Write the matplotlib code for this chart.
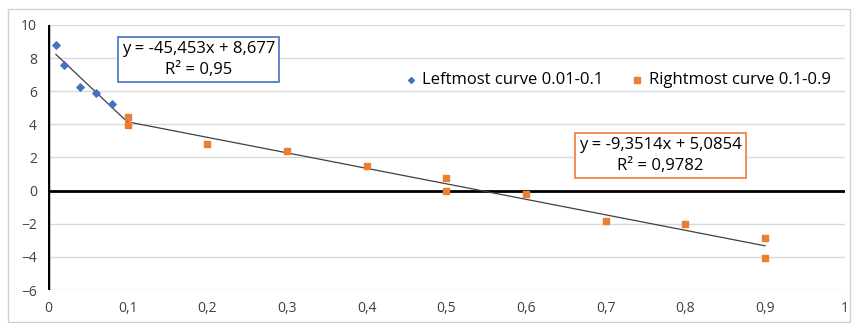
import matplotlib.pyplot as plt
import matplotlib.patches as patches
import numpy as np

# data
left_x = [0.01, 0.02, 0.04, 0.06, 0.08]
left_y = [8.8, 7.6, 6.27, 5.86, 5.22]
right_x = [0.1, 0.1, 0.2, 0.3, 0.4, 0.5, 0.5, 0.6, 0.7, 0.8, 0.9, 0.9]
right_y = [4.45, 3.95, 2.8, 2.4, 1.5, 0.77, -0.04, -0.2, -1.85, -2.0, -2.88, -4.05]

# trend line coefficients (from the chart labels)
left_fit = (-45.453, 8.677, 0.95)
right_fit = (-9.3514, 5.0854, 0.9782)

BLUE = '#4472C4'
ORANGE = '#ED7D31'

plt.rcParams['font.family'] = ['Open Sans', 'DejaVu Sans']

fig = plt.figure(figsize=(8.55, 3.23), dpi=100)
ax = fig.add_axes([0.056, 0.102, 0.932, 0.821])

# outer chart border
fig.patches.append(patches.Rectangle((0.009, 0.003), 0.985, 0.97, transform=fig.transFigure,
                                     fill=False, ec='#d0d0d0', lw=1))

ax.set_xlim(0, 1)
ax.set_ylim(-6, 10)
ax.set_xticks(np.arange(0, 1.01, 0.1))
ax.set_yticks(np.arange(-6, 11, 2))
ax.set_xticklabels(['0'] + ['0,%d' % i for i in range(1, 10)] + ['1'])
ax.yaxis.grid(True, color='#d9d9d9', lw=1)
ax.set_axisbelow(True)
for sp in ax.spines.values():
    sp.set_visible(False)
ax.tick_params(length=0, labelsize=10, colors='#404040', pad=8)
ax.axhline(0, color='black', lw=2, zorder=1)
ax.axvline(0, color='black', lw=2.5, zorder=1)

# trend lines
xl = np.array([min(left_x), 0.1])
ax.plot(xl, left_fit[0] * xl + left_fit[1], color='#404040', lw=0.9, zorder=2)
xr = np.array([0.1, max(right_x)])
ax.plot(xr, right_fit[0] * xr + right_fit[1], color='#404040', lw=0.9, zorder=2)

ax.scatter(left_x, left_y, marker='D', s=14, color=BLUE, zorder=3,
           label='Leftmost curve 0.01-0.1')
ax.scatter(right_x, right_y, marker='s', s=22, color=ORANGE, zorder=3,
           label='Rightmost curve 0.1-0.9')

ax.legend(loc='center left', bbox_to_anchor=(0.447, 0.792), ncol=2, frameon=False,
          fontsize=12, handlelength=0.8, handletextpad=0.3, columnspacing=1.6,
          markerscale=0.8, borderaxespad=0, borderpad=0)

ax.text(0.189, 7.9, 'y = -45,453x + 8,677\nR² = 0,95', ha='center', va='center',
        fontsize=12, linespacing=1.4, zorder=4,
        bbox=dict(boxstyle='square,pad=0.25', fc='white', ec=BLUE, lw=1.2))
ax.text(0.769, 2.1, 'y = -9,3514x + 5,0854\nR² = 0,9782', ha='center', va='center',
        fontsize=12, linespacing=1.4, zorder=4,
        bbox=dict(boxstyle='square,pad=0.25', fc='white', ec=ORANGE, lw=1.2))

plt.savefig('out.png')
